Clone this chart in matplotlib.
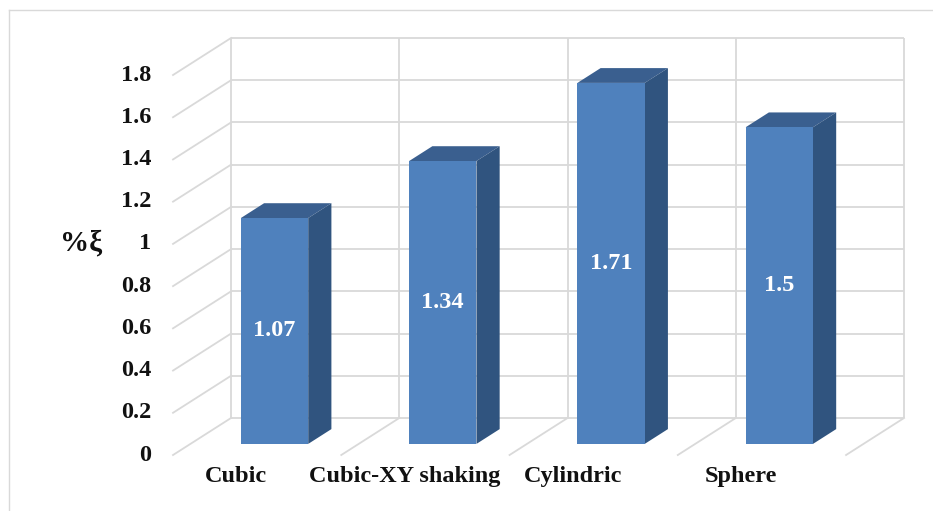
import matplotlib
matplotlib.use("Agg")
import matplotlib.pyplot as plt
from matplotlib.patches import Polygon
from matplotlib.lines import Line2D

# Chart data
categories = ["Cubic", "Cubic-XY shaking", "Cylindric", "Sphere"]
values = [1.07, 1.34, 1.71, 1.5]
y_ticks = [0, 0.2, 0.4, 0.6, 0.8, 1.0, 1.2, 1.4, 1.6, 1.8]
y_tick_labels = ["0", "0.2", "0.4", "0.6", "0.8", "1", "1.2", "1.4", "1.6", "1.8"]
y_title = "%ξ"

# Styling
FONT = "Liberation Serif"
FRONT = "#4F81BD"
TOP = "#3A5F8F"
SIDE = "#30547F"
GRID = "#D9D9D9"
TEXT = "#111111"

# Oblique projection: one unit of depth moves a point left/down by this much
DX, DY = -0.3447, -0.1753
BAR_W = 0.4
D_FRONT, D_BACK = 0.7, 0.3   # depth of bar front/back faces (0 = back wall, 1 = front)


def proj(x, y, d):
    return x + d * DX, y + d * DY


fig = plt.figure(figsize=(9.33, 5.11), dpi=100)
ax = fig.add_axes([0, 0, 1, 1])
ax.set_xlim(-1.373, 4.172)
ax.set_ylim(-0.4405, 1.980)
ax.axis("off")

n = len(categories)
ymax = y_ticks[-1]

# Back wall gridlines
for t in y_ticks:
    ax.plot([0, n], [t, t], color=GRID, lw=1.3, zorder=1, solid_capstyle="butt")
for i in range(n + 1):
    ax.plot([i, i], [0, ymax], color=GRID, lw=1.3, zorder=1, solid_capstyle="butt")

# Side wall gridlines (depth lines at the left edge)
for t in y_ticks:
    x0, y0 = proj(0, t, 0)
    x1, y1 = proj(0, t, 1)
    ax.plot([x0, x1], [y0, y1], color=GRID, lw=1.3, zorder=1)

# Floor depth lines
for i in range(1, n + 1):
    x0, y0 = proj(i, 0, 0)
    x1, y1 = proj(i, 0, 1)
    ax.plot([x0, x1], [y0, y1], color=GRID, lw=1.3, zorder=1)

# Y tick labels on the front plane
for t, lab in zip(y_ticks, y_tick_labels):
    x, y = proj(0, t, 1)
    ax.text(x - 0.13, y, lab, ha="right", va="center", fontsize=17.5,
            fontweight="bold", family=FONT, color=TEXT)

# Y axis title
ax.text(-0.89, 0.829, y_title, ha="center", va="center", fontsize=21,
        fontweight="bold", family=FONT, color=TEXT)

# 3-D bars
for i, v in enumerate(values):
    cx = i + 0.5
    xl, xr = cx - BAR_W / 2, cx + BAR_W / 2
    fx, fy = proj(cx, 0, D_FRONT)
    ax.bar(fx, v, width=BAR_W, bottom=fy, color=FRONT, edgecolor="none", zorder=4)

    ftl = proj(xl, v, D_FRONT)
    ftr = proj(xr, v, D_FRONT)
    fbr = proj(xr, 0, D_FRONT)
    btl = proj(xl, v, D_BACK)
    btr = proj(xr, v, D_BACK)
    bbr = proj(xr, 0, D_BACK)
    ax.add_patch(Polygon([ftl, ftr, btr, btl], closed=True, facecolor=TOP,
                         edgecolor="none", zorder=3))
    ax.add_patch(Polygon([ftr, fbr, bbr, btr], closed=True, facecolor=SIDE,
                         edgecolor="none", zorder=3))

    # value label centred on the front face
    ax.text(fx, fy + v / 2, f"{v:g}", ha="center", va="center", fontsize=17.5,
            fontweight="bold", family=FONT, color="white", zorder=5)

# Category labels beneath the floor
for i, name in enumerate(categories):
    x, _ = proj(i + 0.5, 0, 1)
    ax.text(x - 0.125, -0.2748, name, ha="center", va="center", fontsize=17.5,
            fontweight="bold", family=FONT, color=TEXT)

# Chart area outline
fig.add_artist(Line2D([9 / 933, 9 / 933], [0, 1 - 10 / 511], color=GRID, lw=1.0,
                      transform=fig.transFigure))
fig.add_artist(Line2D([9 / 933, 1], [1 - 10 / 511, 1 - 10 / 511], color=GRID, lw=1.0,
                      transform=fig.transFigure))

fig.savefig("out.png", dpi=100)
